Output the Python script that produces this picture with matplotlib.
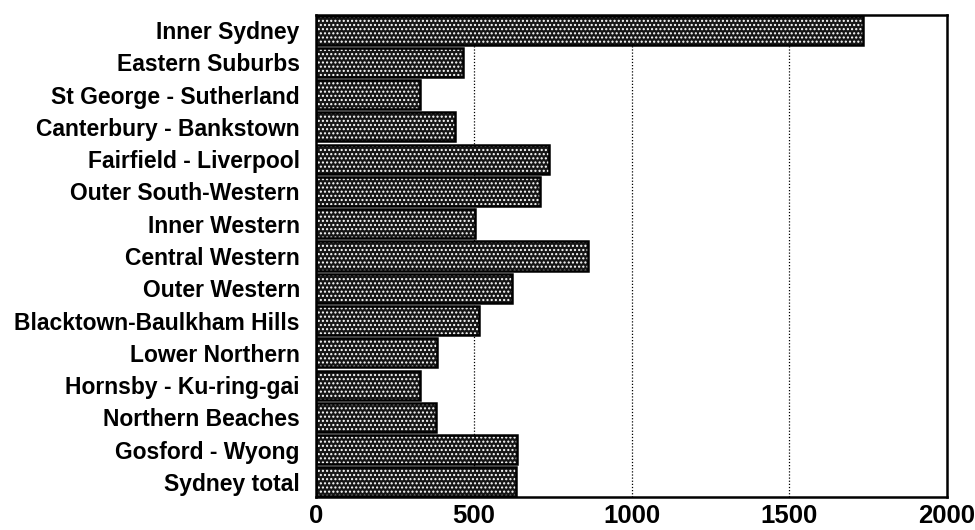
import matplotlib
import matplotlib.pyplot as plt

matplotlib.use("Agg")

regions = [
    "Inner Sydney",
    "Eastern Suburbs",
    "St George - Sutherland",
    "Canterbury - Bankstown",
    "Fairfield - Liverpool",
    "Outer South-Western",
    "Inner Western",
    "Central Western",
    "Outer Western",
    "Blacktown-Baulkham Hills",
    "Lower Northern",
    "Hornsby - Ku-ring-gai",
    "Northern Beaches",
    "Gosford - Wyong",
    "Sydney total",
]
values = [1735, 466, 329, 440, 739, 711, 503, 862, 622, 516, 383, 329, 379, 637, 633]
x_ticks = [0, 500, 1000, 1500, 2000]

plt.rcParams["font.family"] = ["Liberation Sans", "DejaVu Sans"]
plt.rcParams["hatch.linewidth"] = 1.0

fig = plt.figure(figsize=(9.75, 5.3), dpi=100)
ax = fig.add_axes([0.3246, 0.0623, 0.6462, 0.9094])

ypos = list(range(len(regions)))[::-1]

# dotted screen fill: dark bar with white dot hatch, then a black outline
ax.barh(ypos, values, height=0.9, color="#161616", edgecolor="white",
        hatch="....", linewidth=0, zorder=2)
ax.barh(ypos, values, height=0.9, color="none", edgecolor="black",
        linewidth=1.8, zorder=3)

for x in x_ticks[1:-1]:
    ax.axvline(x, color="black", linestyle=(0, (1, 1.5)), linewidth=0.9, zorder=1)

ax.set_xlim(0, 2000)
ax.set_ylim(-0.47, len(regions) - 0.53)
ax.set_xticks(x_ticks)
ax.set_xticklabels([str(t) for t in x_ticks], fontsize=18.5, fontweight="bold")
ax.set_yticks(ypos)
ax.set_yticklabels(regions, fontsize=16.5, fontweight="bold")
ax.tick_params(axis="both", length=0)
ax.tick_params(axis="y", pad=12)
ax.tick_params(axis="x", pad=5)

for spine in ax.spines.values():
    spine.set_linewidth(1.8)

fig.savefig("out.png", dpi=100)
